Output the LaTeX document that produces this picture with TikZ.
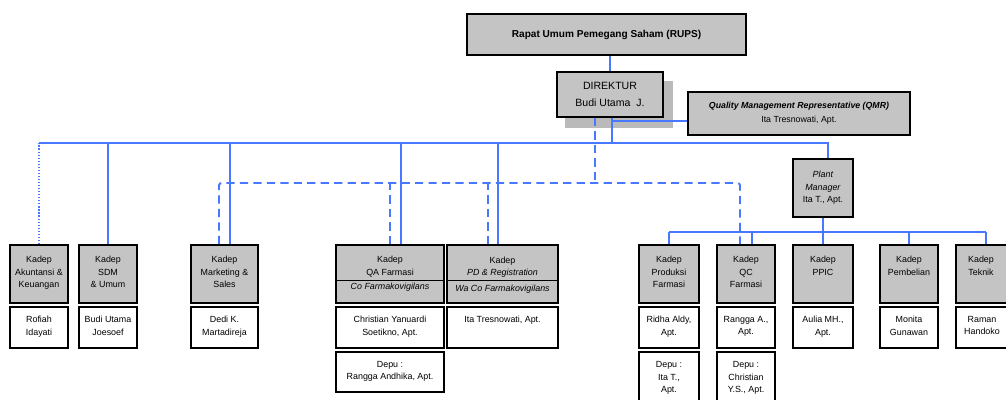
\documentclass[tikz,border=0pt]{standalone}
\usepackage{fontspec}
\setmainfont{Liberation Sans}
\usetikzlibrary{positioning, backgrounds}
\definecolor{boxgray}{RGB}{196,196,196}
\definecolor{shadegray}{RGB}{186,186,186}
\definecolor{lineblue}{RGB}{72,120,255}

\tikzset{
  gbox/.style={draw=black, line width=1.6pt, fill=boxgray, inner sep=0pt},
  wbox/.style={gbox, fill=white},
  sz/.style 2 args={minimum width=#1*0.03cm, minimum height=#2*0.03cm},
  lbl/.style={align=center, inner sep=0pt, anchor=north, font=\fontsize{7.6}{10.5}\selectfont},
  conn/.style={draw=lineblue, line width=1.6pt},
  dconn/.style={conn, dash pattern=on 7pt off 4.5pt},
  pconn/.style={conn, line width=1.4pt, dash pattern=on 1pt off 1.6pt},
}

\begin{document}
\begin{tikzpicture}[x=0.03cm, y=-0.03cm]
  \useasboundingbox (0,0) rectangle (1006,400);
  \clip (0,0) rectangle (1006,400);

  % Pimpinan
  \node[gbox, sz={279}{41}, font=\bfseries\fontsize{8.6}{10}\selectfont] (rups) at (606.5,34.5) {Rapat Umum Pemegang Saham (RUPS)};
  \node[gbox, sz={106}{45}, align=center, font=\fontsize{9}{14.2}\selectfont] (dir) at (610,94.5) {DIREKTUR\\Budi Utama~ J.};
  \begin{pgfonlayer}{background}
    \fill[shadegray] ([shift={(9,10)}]dir.south west) rectangle ([shift={(9,10)}]dir.north east);
  \end{pgfonlayer}
  \node[gbox, sz={222}{43}, align=center, font=\fontsize{7.5}{12}\selectfont] (qmr) at (799,113.5) {\textbf{\textit{Quality Management Representative (QMR)}}\\Ita Tresnowati, Apt.};
  \node[gbox, sz={60}{58}, align=center, font=\fontsize{7.6}{10.7}\selectfont] (pm) at (823,188) {\textit{Plant}\\\textit{Manager}\\Ita T., Apt.};

  % Kadep
  \node[gbox, sz={58}{58}] (akt) at (39,274) {};
  \node[gbox, sz={58}{58}] (sdm) at (108,274) {};
  \node[gbox, sz={67}{58}] (mkt) at (224.5,274) {};
  \node[gbox, sz={108}{58}] (qa) at (390,274) {};
  \node[gbox, sz={111}{58}] (pd) at (502.5,274) {};
  \node[gbox, sz={60}{58}] (prod) at (669,274) {};
  \node[gbox, sz={58}{58}] (qc) at (746,274) {};
  \node[gbox, sz={60}{58}] (ppic) at (823,274) {};
  \node[gbox, sz={58}{58}] (pemb) at (909,274) {};
  \node[gbox, sz={60}{58}] (tek) at (986,274) {};
  \draw[line width=0.8pt] ([shift={(0,36)}]qa.north west) -- ([shift={(0,36)}]qa.north east);
  \draw[line width=0.8pt] ([shift={(0,36)}]pd.north west) -- ([shift={(0,36)}]pd.north east);

  \node[lbl] (akt-t) at ([shift={(0,12)}]akt.north) {Kadep\\Akuntansi \&\\Keuangan};
  \node[lbl] (sdm-t) at ([shift={(0,12)}]sdm.north) {Kadep\\SDM\\\& Umum};
  \node[lbl] (mkt-t) at ([shift={(0,12)}]mkt.north) {Kadep\\Marketing \&\\Sales};
  \node[lbl] (qa-t) at ([shift={(0,12)}]qa.north) {Kadep\\QA Farmasi};
  \node[lbl] (qa-u) at ([shift={(0,39)}]qa.north) {\textit{Co Farmakovigilans}};
  \node[lbl] (pd-t) at ([shift={(0,12.5)}]pd.north) {Kadep\\\textit{PD \& Registration}};
  \node[lbl] (pd-u) at ([shift={(0,40.5)}]pd.north) {\textit{Wa Co Farmakovigilans}};
  \node[lbl] (prod-t) at ([shift={(0,12)}]prod.north) {Kadep\\Produksi\\Farmasi};
  \node[lbl] (qc-t) at ([shift={(0,12)}]qc.north) {Kadep\\QC\\Farmasi};
  \node[lbl] (ppic-t) at ([shift={(0,12)}]ppic.north) {Kadep\\PPIC};
  \node[lbl] (pemb-t) at ([shift={(0,12)}]pemb.north) {Kadep\\Pembelian};
  \node[lbl] (tek-t) at ([shift={(-5,12)}]tek.north) {Kadep\\Teknik};

  % Nama pejabat
  \node[wbox, sz={58}{41}] (akt-n) at (39,327.5) {};
  \node[wbox, sz={58}{41}] (sdm-n) at (108,327.5) {};
  \node[wbox, sz={67}{41}] (mkt-n) at (224.5,327.5) {};
  \node[wbox, sz={108}{41}] (qa-n) at (390,327.5) {};
  \node[wbox, sz={111}{41}] (pd-n) at (502.5,327.5) {};
  \node[wbox, sz={60}{41}] (prod-n) at (669,327.5) {};
  \node[wbox, sz={58}{41}] (qc-n) at (746,327.5) {};
  \node[wbox, sz={60}{41}] (ppic-n) at (823,327.5) {};
  \node[wbox, sz={58}{41}] (pemb-n) at (909,327.5) {};
  \node[wbox, sz={60}{41}] (tek-n) at (986,327.5) {};
  \node[wbox, sz={108}{40}] (qa-w) at (390,372) {};
  \node[wbox, sz={60}{60}] (prod-w) at (669,382) {};
  \node[wbox, sz={58}{60}] (qc-w) at (746,382) {};

  \node[lbl] (akt-p) at ([shift={(0,10)}]akt-n.north) {Rofiah\\Idayati};
  \node[lbl] (sdm-p) at ([shift={(0,10)}]sdm-n.north) {Budi Utama\\Joesoef};
  \node[lbl] (mkt-p) at ([shift={(0,10)}]mkt-n.north) {Dedi K.\\Martadireja};
  \node[lbl] (qa-p) at ([shift={(0,10)}]qa-n.north) {Christian Yanuardi\\Soetikno, Apt.};
  \node[lbl] (pd-p) at ([shift={(0,10)}]pd-n.north) {Ita Tresnowati, Apt.};
  \node[lbl] (prod-p) at ([shift={(0,10)}]prod-n.north) {Ridha Aldy,\\Apt.};
  \node[lbl] (qc-p) at ([shift={(0,10)}]qc-n.north) {Rangga A.,\\Apt.};
  \node[lbl] (ppic-p) at ([shift={(0,10)}]ppic-n.north) {Aulia MH.,\\Apt.};
  \node[lbl] (pemb-p) at ([shift={(0,10)}]pemb-n.north) {Monita\\Gunawan};
  \node[lbl] (tek-p) at ([shift={(-4,10)}]tek-n.north) {Raman\\Handoko};
  \node[lbl] (qa-q) at ([shift={(0,10)}]qa-w.north) {Depu :\\Rangga Andhika, Apt.};
  \node[lbl] (prod-q) at ([shift={(0,10.5)}]prod-w.north) {Depu :\\Ita T.,\\Apt.};
  \node[lbl] (qc-q) at ([shift={(0,10.5)}]qc-w.north) {Depu :\\Christian\\Y.S., Apt.};

  % Garis komando
  \coordinate (bus) at (0,143);
  \coordinate (dbus) at (0,183);
  \coordinate (pbus) at (0,232);
  \coordinate (dir-s) at ([shift={(2,0)}]dir.south);
  \coordinate (dir-d) at ([shift={(-15,0)}]dir.south);
  \coordinate (qmr-l) at ([shift={(0,7.5)}]qmr.west);
  \coordinate (pm-s) at ([shift={(5,0)}]pm.north);
  \coordinate (mkt-s) at ([shift={(5.5,0)}]mkt.north);
  \coordinate (mkt-d) at ([shift={(-5.5,0)}]mkt.north);
  \coordinate (qa-s) at ([shift={(11,0)}]qa.north);
  \coordinate (pd-s) at ([shift={(-4.5,0)}]pd.north);
  \coordinate (pd-d) at ([shift={(-14.5,0)}]pd.north);
  \coordinate (qc-s) at ([shift={(6,0)}]qc.north);
  \coordinate (qc-d) at ([shift={(-6,0)}]qc.north);

  \draw[conn] (dir.north) -- (dir.north |- rups.south);
  \draw[conn] (dir-s) -- (dir-s |- bus);
  \draw[conn] (dir-s |- qmr-l) -- (qmr-l);
  \draw[conn] (akt.north |- bus) -| (pm-s);
  \draw[pconn] (akt.north) -- (akt.north |- bus);
  \foreach \n in {sdm.north, mkt-s, qa-s, pd-s}
    \draw[conn] (\n) -- (\n |- bus);

  % Garis koordinasi
  \draw[dconn, rounded corners=2pt] (mkt-d) |- (qc-d |- dbus) -- (qc-d);
  \foreach \n in {dir-d, qa.north, pd-d}
    \draw[dconn] (\n) -- (\n |- dbus);

  % Plant
  \draw[conn] (pm.south) -- (pm.south |- pbus);
  \draw[conn] (prod.north |- pbus) -- (tek.north |- pbus);
  \foreach \n in {prod.north, qc-s, ppic.north, pemb.north, tek.north}
    \draw[conn] (\n) -- (\n |- pbus);
\end{tikzpicture}
\end{document}
